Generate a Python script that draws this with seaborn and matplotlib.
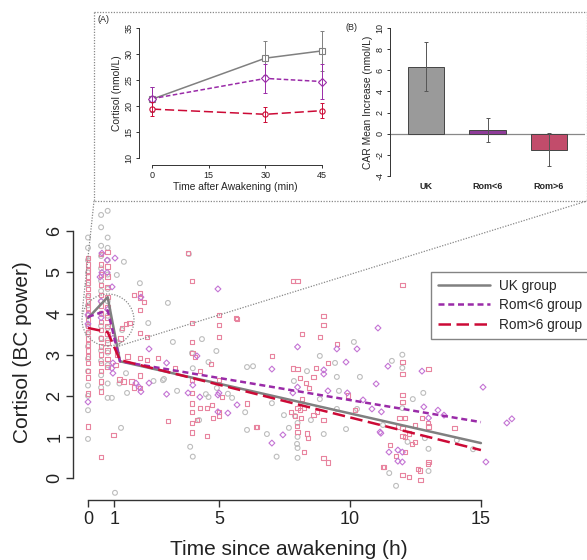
import numpy as np
import pandas as pd
import matplotlib
matplotlib.use("Agg")
import matplotlib.pyplot as plt
from matplotlib.patches import Ellipse
from matplotlib.lines import Line2D
import seaborn as sns

sns.set_theme(style="white")
plt.rcParams['font.family'] = ['Liberation Sans', 'DejaVu Sans']

# ---- main panel: individual samples (hours since awakening, BC-power cortisol)
uk_0h = [0.95, 1.65, 2.0, 2.25, 2.6, 2.9, 3.2, 3.5, 3.7, 3.95, 4.2, 4.4, 4.7, 5.0, 5.3, 5.6, 5.85]
uk_30m = [2.2, 2.5, 2.85, 3.1, 3.4, 3.7, 4.0, 4.3, 4.55, 4.8, 5.1, 5.4, 5.65, 6.1, 6.4]
uk_45m = [1.95, 2.3, 2.75, 3.05, 3.35, 3.65, 3.95, 4.3, 4.6, 4.95, 5.3, 5.6, 5.85, 6.5]
uk_later = [(1.03, -0.36), (0.91, 1.95), (1.26, 1.22), (1.49, 2.07), (1.37, 5.26), (1.1, 4.94),
            (1.2, 2.3), (1.45, 2.55), (1.15, 3.3), (1.3, 3.6),
            (1.98, 4.74), (3.05, 4.26), (2.3, 3.77), (2.86, 2.38), (3.24, 3.31), (3.97, 3.04),
            (3.85, 5.45), (4.35, 3.38), (4.9, 3.09), (6.07, 2.7), (6.3, 2.72), (4.0, 2.67),
            (4.6, 2.82), (2.5, 2.36), (2.9, 2.41), (3.4, 2.12), (4.5, 2.04), (4.6, 1.97),
            (5.5, 1.95), (6.0, 1.6), (6.07, 1.17), (6.83, 1.07), (4.24, 1.41), (3.9, 0.76),
            (4.0, 0.52), (5.34, 2.05), (4.92, 2.19), (8.85, 2.97), (9.43, 2.8), (10.15, 3.31),
            (8.36, 2.6), (7.86, 2.36), (9.5, 2.46), (10.38, 2.46), (9.58, 2.12), (8.85, 1.92),
            (7.02, 1.82), (7.48, 1.53), (7.9, 1.51), (8.51, 1.41), (7.67, 1.22), (8.0, 1.34),
            (8.0, 1.0), (7.98, 0.83), (8.0, 0.73), (7.2, 0.52), (8.0, 0.49), (9.0, 1.07),
            (9.85, 1.19), (10.27, 1.68), (9.5, 1.68), (12.0, 3.0), (11.6, 2.85), (12.0, 2.68),
            (12.8, 2.07), (12.4, 1.92), (12.0, 1.7), (11.26, 1.29), (12.2, 0.88), (12.86, 0.97),
            (13.0, 0.71), (13.0, 0.17), (11.5, 0.12), (11.76, -0.19), (14.08, 0.92), (14.7, 0.7)]

gt6_0h = [1.25, 2.05, 2.45, 2.6, 2.8, 2.95, 3.1, 3.25, 3.4, 3.55, 3.7, 3.85, 4.0, 4.15, 4.3,
          4.45, 4.6, 4.75, 4.9, 5.05, 5.2, 5.35]
gt6_30m = [0.51, 2.1, 2.35, 2.6, 2.8, 3.0, 3.2, 3.4, 3.6, 3.8, 4.0, 4.2, 4.45, 4.7, 4.95, 5.2, 5.45]
gt6_45m = [2.7, 2.9, 3.1, 3.3, 3.5, 3.7, 3.9, 4.15, 4.4, 4.65, 4.9, 5.15, 5.5]
gt6_later = [(0.97, 1.05), (1.05, 2.75), (1.1, 3.0), (1.25, 3.4), (1.3, 3.65), (1.45, 3.75),
             (1.5, 2.95), (1.2, 2.4), (1.35, 2.35), (1.58, 3.77), (1.98, 4.5), (1.98, 4.38),
             (2.14, 4.28), (1.98, 4.09), (1.98, 3.53), (2.25, 3.43), (1.98, 2.92), (2.25, 2.87),
             (1.98, 2.5), (1.98, 2.19), (2.67, 2.92), (3.32, 2.67), (3.05, 1.39), (3.82, 5.47),
             (3.97, 4.79), (3.97, 3.77), (3.97, 3.31), (3.97, 2.38), (3.97, 2.07), (3.97, 1.82),
             (3.97, 1.61), (3.97, 1.34), (3.97, 1.1), (4.16, 1.41), (4.54, 1.02), (4.27, 1.7),
             (4.54, 1.7), (4.73, 1.78), (4.77, 1.46), (5.0, 3.97), (5.0, 3.72), (5.0, 3.43),
             (5.0, 1.61), (5.0, 1.51), (5.11, 1.97), (5.0, 2.38), (5.65, 3.89), (6.07, 1.82),
             (6.41, 1.24), (7.02, 2.97), (7.82, 4.79), (7.82, 2.67), (7.9, 1.51), (7.98, 1.27),
             (4.0, 3.04), (4.08, 2.94), (4.27, 2.6), (4.7, 2.77), (9.0, 3.94), (9.0, 3.72),
             (8.17, 3.5), (8.85, 3.43), (9.5, 3.26), (8.0, 2.65), (8.7, 2.68), (9.16, 2.8),
             (8.09, 2.43), (8.32, 2.31), (8.6, 2.46), (8.43, 2.19), (8.17, 1.92), (8.0, 1.7),
             (7.75, 1.61), (8.09, 1.65), (8.24, 1.7), (8.74, 1.61), (8.6, 1.53), (8.13, 1.46),
             (8.0, 1.12), (8.36, 1.09), (8.4, 0.97), (8.24, 0.63), (9.0, 0.49), (9.16, 0.37),
             (9.0, 1.41), (9.92, 2.0), (10.2, 1.65), (11.26, 0.27), (12.0, 2.82), (12.0, 2.53),
             (13.0, 2.65), (12.0, 2.02), (12.0, 1.85), (11.9, 1.46), (12.1, 1.46), (11.83, 1.26),
             (12.0, 1.22), (12.25, 1.09), (12.0, 1.02), (12.1, 1.0), (12.48, 1.29), (12.75, 1.46),
             (12.98, 1.34), (13.0, 1.26), (12.48, 0.88), (12.37, 0.83), (11.53, 0.8), (11.76, 0.54),
             (12.1, 0.63), (12.0, 0.07), (12.25, 0.02), (12.6, 0.22), (12.67, 0.19), (12.7, -0.05),
             (13.0, 0.39), (12.98, 0.34), (11.3, 0.27), (14.0, 1.22), (8.0, 4.79), (12.0, 4.7),
             (5.69, 3.87), (1.75, 4.45), (1.65, 2.35), (1.75, 2.2), (6.45, 1.24)]

lt6_points = [(0, 1.85), (0, 3.97), (0, 3.75), (0.53, 5.47), (0.53, 5.0), (0.46, 4.89), (0.73, 5.3),
              (0.73, 5.0), (0.92, 4.65), (1.03, 5.35), (0.95, 3.4), (0.95, 2.8), (0.95, 2.55),
              (0.91, 2.67), (0.5, 3.9), (0.75, 4.1), (0.5, 4.3), (1.83, 2.31), (1.95, 2.21),
              (2.02, 2.1), (2.33, 2.31), (2.33, 3.14), (2.02, 4.4), (3.0, 2.04), (3.0, 2.8),
              (4.0, 2.26), (3.82, 2.07), (4.16, 2.97), (4.96, 4.6), (5.0, 2.07), (5.34, 1.58),
              (5.69, 1.78), (7.02, 2.65), (7.02, 0.85), (7.44, 1.05), (8.0, 3.19), (4.96, 1.61),
              (4.27, 1.97), (4.96, 2.02), (9.0, 2.63), (9.0, 2.53), (9.5, 3.14), (10.27, 3.14),
              (9.85, 2.82), (11.07, 3.65), (11.0, 2.29), (9.16, 2.12), (9.9, 2.07), (10.5, 1.9),
              (10.84, 1.68), (11.2, 1.61), (8.0, 2.21), (7.82, 2.07), (11.18, 1.09), (11.45, 2.72),
              (12.75, 2.6), (15.08, 2.21), (12.82, 1.73), (13.36, 1.65), (13.0, 1.46), (13.59, 1.53),
              (11.15, 1.12), (11.83, 0.68), (12.0, 0.63), (11.49, 0.63), (11.83, 0.41), (12.0, 0.39),
              (15.99, 1.34), (16.18, 1.44), (15.19, 0.39)]

# fitted piecewise profiles
fit_hours = [0, 0.75, 1.22, 15]
uk_fit = [3.89, 4.40, 2.84, 0.85]
lt6_fit = [3.92, 4.08, 2.84, 1.36]
gt6_fit = [3.65, 3.55, 2.87, 0.68]

# ---- inset A: CAR means (nmol/L)
car_minutes = [0, 30, 45]
uk_car = [21.3, 29.2, 30.6]
uk_car_err = [2.4, 3.3, 3.9]
lt6_car = [21.4, 25.3, 24.7]
lt6_car_err = [2.3, 2.8, 3.4]
gt6_car = [19.4, 18.4, 19.1]
gt6_car_err = [1.3, 1.4, 1.4]

# ---- inset B: mean increase
groups = ["UK", "Rom<6", "Rom>6"]
car_increase = [6.35, 0.35, -1.5]
car_increase_err = [2.35, 1.1, 1.55]

GRAY, PURPLE, RED = "#808080", "#9a2ba8", "#cc0a36"
PT_GRAY, PT_PINK, PT_PURPLE = "#bdbdbd", "#e8849f", "#c474d4"

W, H = 587, 560
fig = plt.figure(figsize=(W / 100, H / 100), dpi=100)


def fx(px):
    return px / W


def fy(py):
    return 1 - py / H


def expand(cols, later):
    hrs, vals = [], []
    for t, ys in cols:
        hrs += [t] * len(ys)
        vals += ys
    hrs += [p[0] for p in later]
    vals += [p[1] for p in later]
    return hrs, vals


uk_h, uk_v = expand([(0, uk_0h), (0.5, uk_30m), (0.75, uk_45m)], uk_later)
gt_h, gt_v = expand([(0, gt6_0h), (0.5, gt6_30m), (0.75, gt6_45m)], gt6_later)
lt_h, lt_v = expand([], lt6_points)

# main axes
ax = fig.add_axes([fx(73), fy(500), fx(587 - 73), (500 - 205) / H])
for hrs, vals, c, m, s in [(uk_h, uk_v, PT_GRAY, 'o', 12), (gt_h, gt_v, PT_PINK, 's', 11),
                           (lt_h, lt_v, PT_PURPLE, 'D', 9)]:
    sns.scatterplot(x=hrs, y=vals, ax=ax, marker=m, s=s, color=c, facecolor='none',
                    edgecolor=c, linewidth=0.8, zorder=2)

ax.plot(fit_hours, uk_fit, color=GRAY, lw=1.8, label="UK group", zorder=4)
ax.plot(fit_hours, lt6_fit, color=PURPLE, lw=1.8, dashes=(2.4, 1.5), label="Rom<6 group", zorder=4)
ax.plot(fit_hours, gt6_fit, color=RED, lw=1.8, dashes=(5, 2.2), label="Rom>6 group", zorder=4)

ax.set_xlim(-0.573, 19.05)
ax.set_ylim(-0.535, 6.642)
for sp in ['top', 'right']:
    ax.spines[sp].set_visible(False)
ax.spines['left'].set_bounds(0, 6)
ax.spines['bottom'].set_bounds(0, 15)
for sp in ['left', 'bottom']:
    ax.spines[sp].set_color('#333333')
    ax.spines[sp].set_linewidth(1.0)
ax.set_xticks([0, 1, 5, 10, 15])
ax.set_yticks(range(0, 7))
ax.set_yticklabels([str(v) for v in range(0, 7)], rotation=90, va='center')
ax.tick_params(axis='both', direction='out', length=5, width=1, colors='#333333',
               labelsize=13, labelcolor='#222222', left=True, bottom=True)
ax.tick_params(axis='x', pad=3)
ax.tick_params(axis='y', pad=2)
ax.set_xlabel("Time since awakening (h)", fontsize=15, color='#222222')
ax.set_ylabel("Cortisol (BC power)", fontsize=15, color='#222222')
ax.xaxis.set_label_coords(0.42, -0.135)
ax.yaxis.set_label_coords(-0.08, 0.5)
ax.grid(False)

leg = ax.legend(loc='upper left', bbox_to_anchor=(fx(431), fy(272)), bbox_transform=fig.transFigure,
                fontsize=9.8, frameon=True, fancybox=False, handlelength=3.8, borderaxespad=0,
                borderpad=0.5, labelspacing=0.4, handletextpad=0.7)
leg.get_frame().set_edgecolor('#666666')
leg.get_frame().set_linewidth(1.0)

# zoom circle + connectors + inset frame
dot = dict(color='#888888', lw=0.9, ls=(0, (1, 1.2)))
fig.patches.append(Ellipse((fx(108), fy(320)), 52 / W, 52 / H, transform=fig.transFigure,
                           fill=False, ec='#888888', lw=0.9, ls=(0, (1, 1.2))))
fig.add_artist(Line2D([fx(94), fx(82)], [fy(201), fy(314)], transform=fig.transFigure, **dot))
fig.add_artist(Line2D([fx(119), fx(587)], [fy(346), fy(201)], transform=fig.transFigure, **dot))
fig.add_artist(Line2D([fx(94), fx(587), fx(587)], [fy(12), fy(12), fy(201)], transform=fig.transFigure, **dot))
fig.add_artist(Line2D([fx(94), fx(94), fx(587)], [fy(12), fy(201), fy(201)], transform=fig.transFigure, **dot))

# inset A
axa = fig.add_axes([fx(139), fy(165), (332 - 139) / W, (165 - 22) / H])
for vals, err, c, m, d in [(uk_car, uk_car_err, GRAY, 's', None), (lt6_car, lt6_car_err, PURPLE, 'D', (3, 1.6)),
                           (gt6_car, gt6_car_err, RED, 'o', (6, 2.5))]:
    line, = axa.plot(car_minutes, vals, color=c, lw=1.1, marker=m, ms=3.8, mfc='white', mec=c, mew=0.8)
    if d:
        line.set_dashes(d)
    axa.errorbar(car_minutes, vals, yerr=err, fmt='none', ecolor=c, elinewidth=0.7, capsize=1.3, capthick=0.7)
axa.set_xlim(-3.44, 47.6)
axa.set_ylim(8.65, 36.15)
for sp in ['top', 'right']:
    axa.spines[sp].set_visible(False)
axa.spines['left'].set_bounds(10, 35)
axa.spines['bottom'].set_bounds(0, 45)
for sp in ['left', 'bottom']:
    axa.spines[sp].set_color('#333333')
    axa.spines[sp].set_linewidth(0.7)
axa.set_xticks(car_minutes[:1] + [15] + car_minutes[1:])
axa.set_yticks(range(10, 36, 5))
axa.set_yticklabels([str(v) for v in range(10, 36, 5)], rotation=90, va='center')
axa.tick_params(direction='out', length=2.5, width=0.7, colors='#333333', labelsize=6.5,
                labelcolor='#222222', left=True, bottom=True, pad=1.5)
axa.set_xlabel("Time after Awakening (min)", fontsize=7.4, labelpad=2)
axa.set_ylabel("Cortisol (nmol/L)", fontsize=7.4, labelpad=2)
axa.set_facecolor('none')
fig.text(fx(97), fy(20), "(A)", fontsize=6.5, ha='left', va='center')

# inset B
axb = fig.add_axes([fx(390), fy(178), 195 / W, 152 / H])
bar_df = pd.DataFrame({"group": groups, "increase": car_increase})
sns.barplot(data=bar_df, x="group", y="increase", hue="group", palette=["#9a9a9a", PURPLE, "#d63862"],
            width=0.6, edgecolor='#444444', linewidth=0.7, legend=False, ax=axb, zorder=2)
axb.errorbar(range(len(groups)), car_increase, yerr=car_increase_err, fmt='none', ecolor='#555555',
             elinewidth=0.7, capsize=1.5, capthick=0.7, zorder=3)
axb.axhline(0, color='#888888', lw=0.9, zorder=1)
axb.set_xlim(-0.585, 2.585)
axb.set_ylim(-4.19, 10.19)
for sp in ['top', 'right', 'bottom']:
    axb.spines[sp].set_visible(False)
axb.spines['left'].set_bounds(-4, 10)
axb.spines['left'].set_color('#333333')
axb.spines['left'].set_linewidth(0.7)
axb.set_yticks(range(-4, 11, 2))
axb.set_yticklabels([str(v) for v in range(-4, 11, 2)], rotation=90, va='center')
axb.tick_params(axis='y', direction='out', length=2.5, width=0.7, colors='#333333', labelsize=6.5,
                labelcolor='#222222', left=True, pad=1.5)
axb.tick_params(axis='x', length=0, labelsize=6.5, pad=3)
for lab in axb.get_xticklabels():
    lab.set_fontweight('bold')
axb.set_xlabel("")
axb.set_ylabel("CAR Mean Increase (nmol/L)", fontsize=7.4, labelpad=2)
axb.set_facecolor('none')
fig.text(fx(346), fy(28), "(B)", fontsize=6.5, ha='left', va='center')

fig.savefig("out.png", dpi=100)
